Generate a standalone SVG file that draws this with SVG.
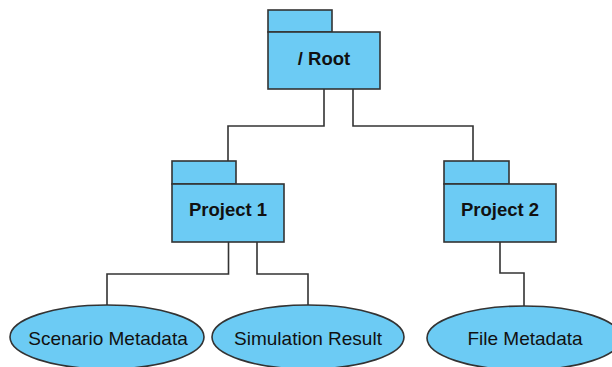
<svg xmlns="http://www.w3.org/2000/svg" width="612" height="367" viewBox="0 0 612 367">
<style>
.f{fill:#6ccbf4;stroke:#333;stroke-width:1.6}
.c{fill:none;stroke:#333;stroke-width:1.6}
.b{font-family:"Liberation Sans",Arial,sans-serif;font-weight:bold;font-size:18.5px;fill:#111;text-anchor:middle}
.r{font-family:"Liberation Sans",Arial,sans-serif;font-size:19px;fill:#111;text-anchor:middle}
</style>
<rect width="612" height="367" fill="#fff"/>
<g id="connectors">
<polyline class="c" points="324,89 324,126 228,126 228,161"/>
<polyline class="c" points="353,89 353,126 473,126 473,161"/>
<polyline class="c" points="228.5,242 228.5,274 107,274 107,305"/>
<polyline class="c" points="257,242 257,274 308,274 308,305"/>
<polyline class="c" points="500,242 500,273 524,273 524,306"/>
</g>
<g id="root">
<rect class="f" x="268" y="10" width="64" height="22"/>
<rect class="f" x="268" y="32" width="112" height="57"/>
<text class="b" x="324" y="65">/ Root</text>
</g>
<g id="project1">
<rect class="f" x="172" y="161" width="64" height="23"/>
<rect class="f" x="172" y="184" width="112" height="58"/>
<text class="b" x="228" y="216">Project 1</text>
</g>
<g id="project2">
<rect class="f" x="444" y="161" width="65" height="23"/>
<rect class="f" x="444" y="184" width="112" height="58"/>
<text class="b" x="500" y="216">Project 2</text>
</g>
<g id="scenario">
<ellipse class="f" cx="107" cy="337" rx="97" ry="32"/>
<text class="r" x="108" y="345">Scenario Metadata</text>
</g>
<g id="simulation">
<ellipse class="f" cx="308" cy="337" rx="96" ry="32"/>
<text class="r" x="308" y="345">Simulation Result</text>
</g>
<g id="file">
<ellipse class="f" cx="524" cy="338" rx="97" ry="32"/>
<text class="r" x="525" y="345">File Metadata</text>
</g>
</svg>
